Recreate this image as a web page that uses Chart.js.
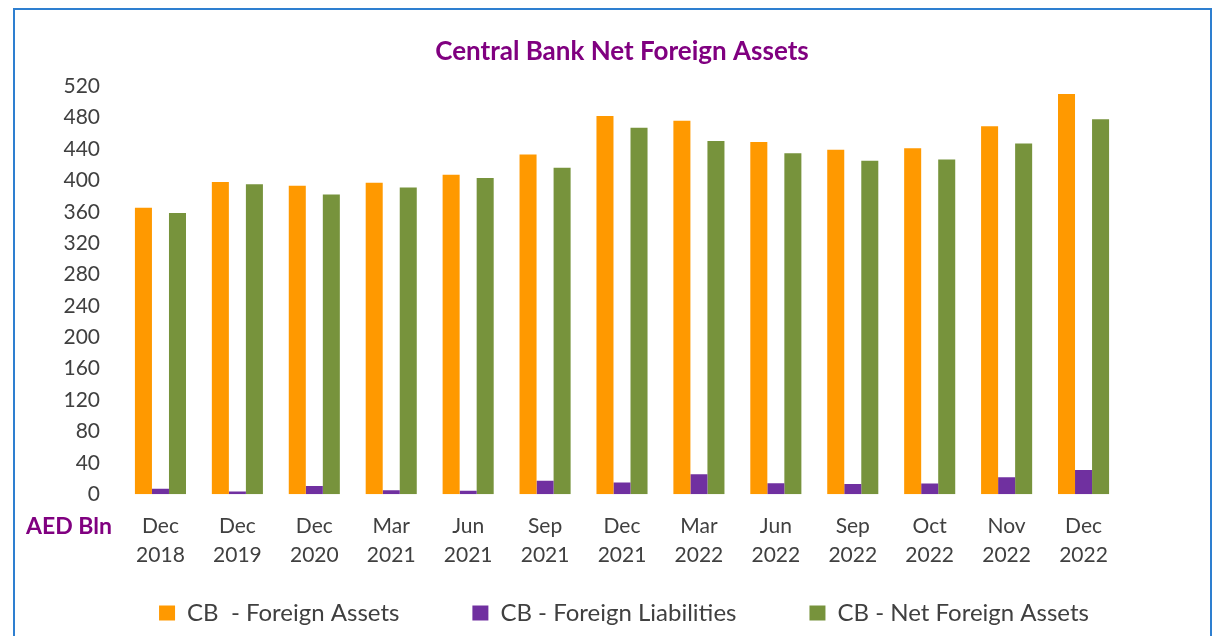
<!DOCTYPE html>
<html>
<head>
<meta charset="utf-8">
<script src="https://cdn.jsdelivr.net/npm/chart.js@4.4.0/dist/chart.umd.min.js"></script>
<style>
  body { margin: 0; background: #fff; overflow: hidden; }
  #wrap { position: absolute; left: 0; top: 0; width: 1222px; height: 636px; }
  #frame { position: absolute; left: 13px; top: 8px; width: 1195px; height: 700px;
           border: 2px solid #2e7fd0; pointer-events: none; }
</style>
</head>
<body>
<div id="wrap"><canvas id="cbChart"></canvas></div>
<div id="frame"></div>
<script>
// values, AED Bln
var periods = [['Dec', '2018'], ['Dec', '2019'], ['Dec', '2020'], ['Mar', '2021'], ['Jun', '2021'],
    ['Sep', '2021'], ['Dec', '2021'], ['Mar', '2022'], ['Jun', '2022'], ['Sep', '2022'],
    ['Oct', '2022'], ['Nov', '2022'], ['Dec', '2022']];
var foreignAssets = [365, 398, 393, 397, 407, 433, 482, 476, 449, 439, 441, 469, 510];
var foreignLiabilities = [7, 3.5, 10.5, 5, 4.5, 17, 15, 25.5, 14, 13, 13.5, 21.5, 31];
var netForeignAssets = [358.5, 395, 382, 391, 403, 416, 467, 450, 434.5, 425, 426.5, 447, 478];

var font = 'Lato, "Noto Sans", sans-serif';

// "AED Bln" unit label next to the first row of category labels
var unitLabel = {
    id: 'unitLabel',
    afterDraw: function (chart) {
        var ctx = chart.ctx;
        ctx.save();
        ctx.font = 'bold 23px ' + font;
        ctx.fillStyle = '#800080';
        ctx.textAlign = 'right';
        ctx.textBaseline = 'middle';
        ctx.fillText('AED Bln', 112, chart.chartArea.bottom + 32);
        ctx.restore();
    }
};

// wide gaps between legend items without the legend eating vertical space
var legendSpacing = {
    id: 'legendSpacing',
    beforeInit: function (chart) {
        var fit = chart.legend.fit;
        chart.legend.fit = function () {
            fit.call(this);
            this.fullHeight = this.height;
            this.height -= 51;
        };
    },
    afterLayout: function (chart) {
        var lg = chart.legend;
        lg.top = lg.bottom - lg.fullHeight;
        lg.left += 52;
        lg.right += 52;
    }
};

var ctx = document.getElementById('cbChart').getContext('2d');
var cbChart = new Chart(ctx, {
    type: 'bar',
    data: {
        labels: periods,
        datasets: [{
            label: 'CB  - Foreign Assets',
            data: foreignAssets,
            backgroundColor: '#ff9900'
        }, {
            label: 'CB - Foreign Liabilities',
            data: foreignLiabilities,
            backgroundColor: '#7030a0'
        }, {
            label: 'CB - Net Foreign Assets',
            data: netForeignAssets,
            backgroundColor: '#77933c'
        }]
    },
    options: {
        responsive: true,
        maintainAspectRatio: false,
        animation: false,
        datasets: {
            bar: { categoryPercentage: 0.664, barPercentage: 1 }
        },
        layout: {
            padding: { left: 22, right: 100, top: 36, bottom: 1 }
        },
        plugins: {
            title: {
                display: true,
                fullSize: false,
                text: 'Central Bank Net Foreign Assets',
                color: '#800080',
                font: { family: font, size: 26, weight: 'bold' },
                padding: { top: 0, bottom: 19 }
            },
            legend: {
                position: 'bottom',
                labels: {
                    color: '#404040',
                    font: { family: font, size: 24 },
                    boxWidth: 16,
                    boxHeight: 15,
                    padding: 73
                }
            },
            tooltip: { enabled: false }
        },
        scales: {
            x: {
                grid: { display: false },
                border: { display: false },
                ticks: {
                    color: '#404040',
                    font: { family: font, size: 21, lineHeight: 1.4 },
                    padding: 9,
                    maxRotation: 0
                }
            },
            y: {
                min: 0,
                max: 520,
                grid: { display: false },
                border: { display: false },
                afterFit: function (scale) { scale.width = 100; },
                ticks: {
                    stepSize: 40,
                    color: '#404040',
                    font: { family: font, size: 21 },
                    padding: 14
                }
            }
        }
    },
    plugins: [unitLabel, legendSpacing]
});
</script>
</body>
</html>
